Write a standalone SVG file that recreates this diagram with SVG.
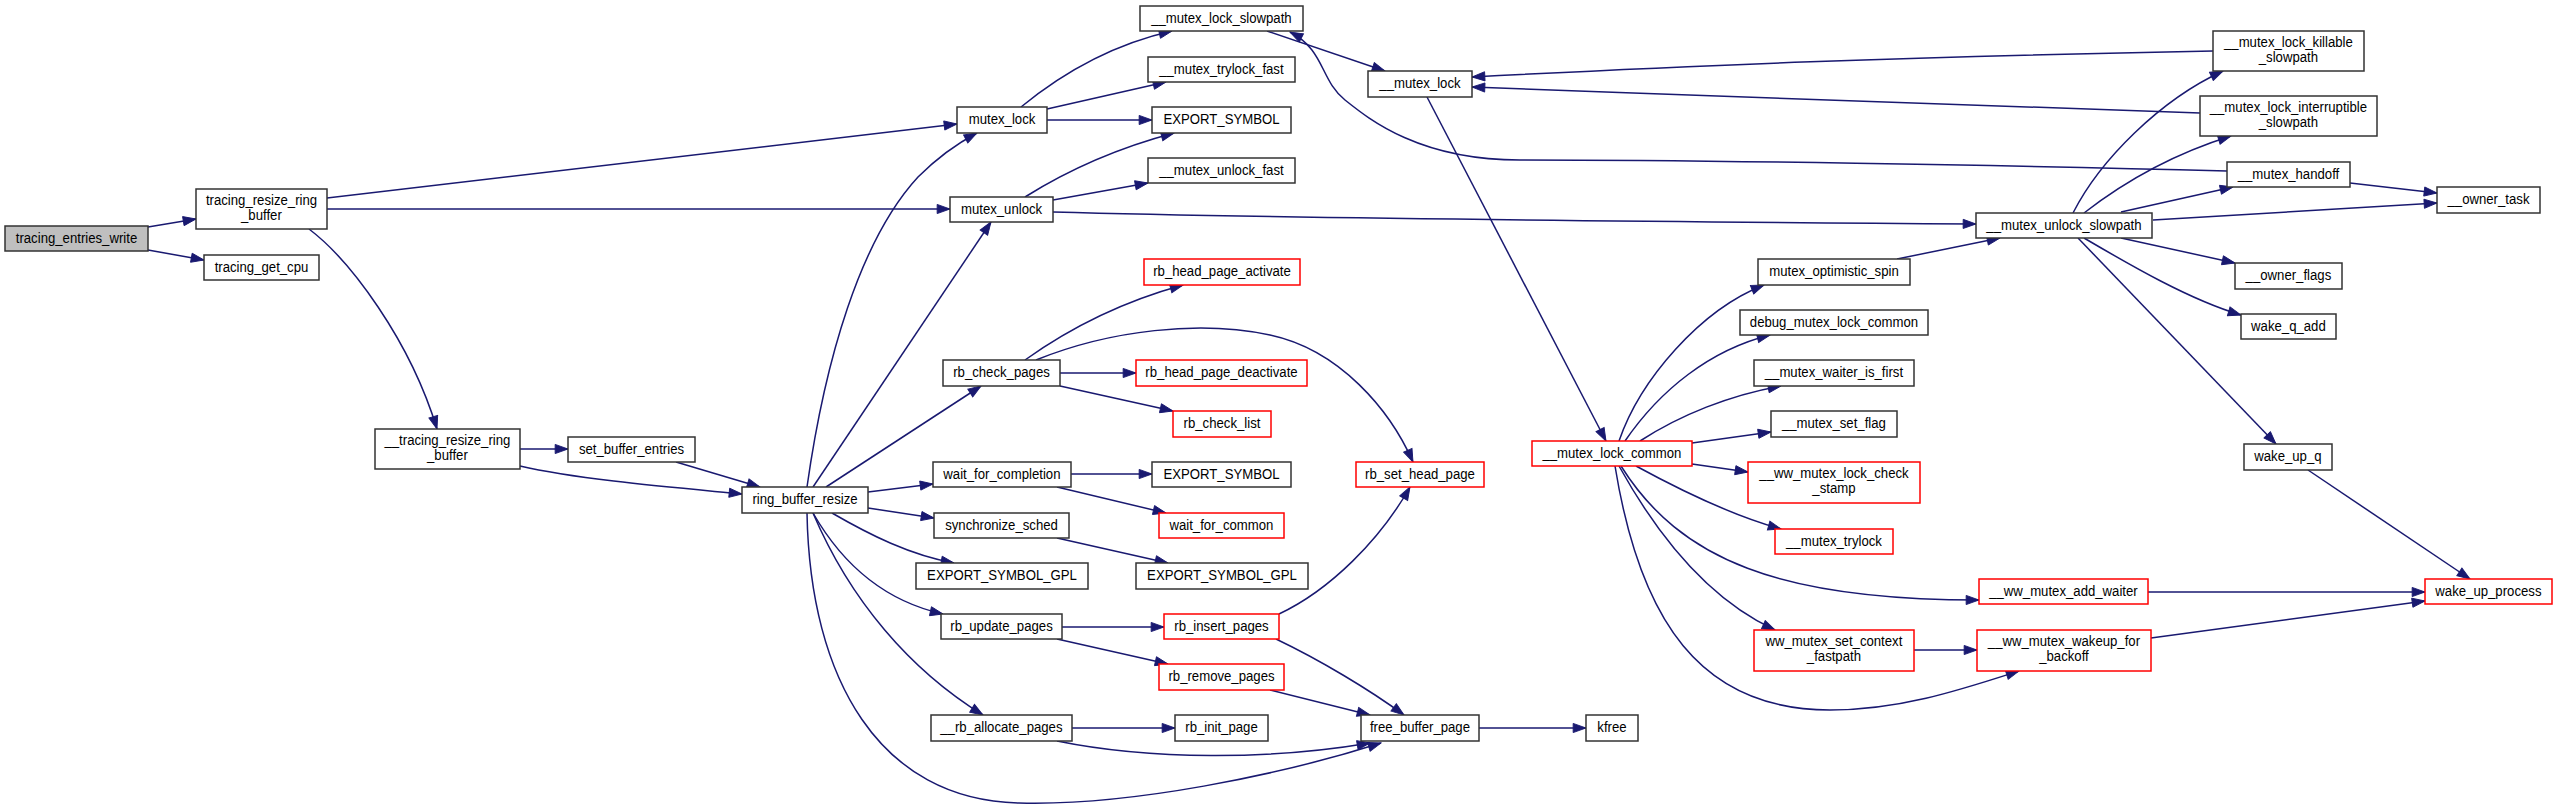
<svg xmlns="http://www.w3.org/2000/svg" width="2557" height="809" viewBox="0 0 2557 809">
<defs>
<style>
.n rect{fill:#ffffff;stroke:#333333;stroke-width:1.5}
.r rect{fill:#ffffff;stroke:#ff0000;stroke-width:1.5}
.g rect{fill:#bfbfbf;stroke:#333333;stroke-width:1.5}
text{font-family:"Liberation Sans",Arial,sans-serif;font-size:15.5px;fill:#000000;text-anchor:middle;transform-box:fill-box;transform-origin:center;transform:scaleX(0.85)}
.e path{fill:none;stroke:#191970;stroke-width:1.5;marker-end:url(#ah)}
</style>
<marker id="ah" markerUnits="userSpaceOnUse" markerWidth="15" markerHeight="11" refX="14" refY="5" orient="auto" viewBox="-1 -1 16 12">
<path d="M0,0 L14,5 L0,10 z" fill="#191970" stroke="#191970" stroke-width="1"/>
</marker>
</defs>
<rect width="2557" height="809" fill="#ffffff"/>
<g id="connectors" class="e">
<path d="M148,227 L196,219"/>
<path d="M148,250 L204,260"/>
<path d="M327,198 L957,124"/>
<path d="M327,209 L950,209"/>
<path d="M309,229 C350,260 410,340 437,429"/>
<path d="M520,449 L568,449"/>
<path d="M520,466 C580,480 680,488 742,494"/>
<path d="M676,462 L760,487"/>
<path d="M807,487 C825,360 860,240 918,177 C940,155 960,142 977,133"/>
<path d="M813,487 L991,222"/>
<path d="M826,487 L981,386"/>
<path d="M868,492 L933,484"/>
<path d="M868,508 L934,518"/>
<path d="M832,513 C870,535 910,555 954,563"/>
<path d="M813,513 C840,560 880,600 943,614"/>
<path d="M813,513 C850,600 910,670 983,715"/>
<path d="M807,513 C810,680 880,800 1019,803 C1130,806 1280,775 1381,743"/>
<path d="M1036,360 C1110,330 1200,320 1270,335 C1340,350 1390,410 1413,462"/>
<path d="M1025,360 C1060,335 1110,305 1183,285"/>
<path d="M1060,373 L1136,373"/>
<path d="M1060,386 L1173,411"/>
<path d="M1021,107 C1060,75 1110,45 1172,31"/>
<path d="M1047,109 L1166,82"/>
<path d="M1047,120 L1152,120"/>
<path d="M1025,197 C1060,175 1110,150 1174,133"/>
<path d="M1053,200 L1148,183"/>
<path d="M1053,212 C1300,219 1700,222 1976,224"/>
<path d="M1267,31 L1385,71"/>
<path d="M1427,97 L1606,441"/>
<path d="M2213,51 C1900,57 1700,65 1472,77"/>
<path d="M2200,113 C1900,102 1700,96 1472,87"/>
<path d="M2227,171 C2000,165 1700,160 1520,160 C1420,160 1370,120 1345,100 C1320,80 1325,50 1290,32"/>
<path d="M2073,213 C2100,160 2160,100 2223,71"/>
<path d="M2084,213 C2120,185 2170,155 2231,136"/>
<path d="M2121,212 L2233,187"/>
<path d="M2153,220 L2437,203"/>
<path d="M2350,183 L2437,193"/>
<path d="M2121,238 L2235,263"/>
<path d="M2084,238 C2130,265 2190,300 2241,315"/>
<path d="M2078,238 L2276,444"/>
<path d="M2308,470 L2470,579"/>
<path d="M1897,259 L2000,238"/>
<path d="M1619,441 C1640,380 1700,310 1764,285"/>
<path d="M1625,441 C1660,390 1710,350 1770,335"/>
<path d="M1640,441 C1680,415 1730,395 1781,386"/>
<path d="M1692,443 L1771,432"/>
<path d="M1692,464 L1748,472"/>
<path d="M1636,466 C1680,490 1730,515 1781,529"/>
<path d="M1621,466 C1680,560 1780,600 1979,600"/>
<path d="M1619,466 C1660,540 1710,600 1775,630"/>
<path d="M1615,466 C1640,620 1700,710 1830,710 C1900,710 1960,690 2019,671"/>
<path d="M1914,650 L1977,650"/>
<path d="M2148,592 L2425,592"/>
<path d="M2151,638 L2425,601"/>
<path d="M1071,474 L1152,474"/>
<path d="M1057,487 L1166,513"/>
<path d="M1057,538 L1168,563"/>
<path d="M1062,627 L1164,627"/>
<path d="M1057,639 L1168,664"/>
<path d="M1279,614 C1330,590 1380,540 1410,487"/>
<path d="M1276,639 C1320,660 1370,690 1404,715"/>
<path d="M1270,690 L1370,715"/>
<path d="M1072,728 L1175,728"/>
<path d="M1057,741 C1150,760 1270,760 1370,743"/>
<path d="M1479,728 L1586,728"/>
</g>
<g id="n1" class="g"><rect x="5" y="226" width="143" height="25"/><text x="76.5" y="243">tracing_entries_write</text></g>
<g id="n2" class="n"><rect x="196" y="189" width="131" height="40"/><text x="261.5" y="205">tracing_resize_ring</text><text x="261.5" y="220">_buffer</text></g>
<g id="n3" class="n"><rect x="204" y="255" width="115" height="25"/><text x="261.5" y="272">tracing_get_cpu</text></g>
<g id="n4" class="n"><rect x="375" y="429" width="145" height="40"/><text x="447.5" y="445">__tracing_resize_ring</text><text x="447.5" y="460">_buffer</text></g>
<g id="n5" class="n"><rect x="568" y="437" width="127" height="25"/><text x="631.5" y="454">set_buffer_entries</text></g>
<g id="n6" class="n"><rect x="742" y="487" width="126" height="26"/><text x="805" y="504">ring_buffer_resize</text></g>
<g id="n7" class="n"><rect x="957" y="107" width="90" height="26"/><text x="1002" y="124">mutex_lock</text></g>
<g id="n8" class="n"><rect x="950" y="197" width="103" height="25"/><text x="1001.5" y="214">mutex_unlock</text></g>
<g id="n9" class="n"><rect x="943" y="360" width="117" height="26"/><text x="1001.5" y="377">rb_check_pages</text></g>
<g id="n10" class="n"><rect x="933" y="462" width="138" height="25"/><text x="1002" y="479">wait_for_completion</text></g>
<g id="n11" class="n"><rect x="934" y="513" width="135" height="25"/><text x="1001.5" y="530">synchronize_sched</text></g>
<g id="n12" class="n"><rect x="916" y="563" width="172" height="26"/><text x="1002" y="580">EXPORT_SYMBOL_GPL</text></g>
<g id="n13" class="n"><rect x="941" y="614" width="121" height="25"/><text x="1001.5" y="631">rb_update_pages</text></g>
<g id="n14" class="n"><rect x="931" y="715" width="141" height="26"/><text x="1001.5" y="732">__rb_allocate_pages</text></g>
<g id="n15" class="n"><rect x="1140" y="6" width="163" height="25"/><text x="1221.5" y="23">__mutex_lock_slowpath</text></g>
<g id="n16" class="n"><rect x="1148" y="57" width="147" height="25"/><text x="1221.5" y="74">__mutex_trylock_fast</text></g>
<g id="n17" class="n"><rect x="1152" y="107" width="139" height="26"/><text x="1221.5" y="124">EXPORT_SYMBOL</text></g>
<g id="n18" class="n"><rect x="1148" y="158" width="147" height="25"/><text x="1221.5" y="175">__mutex_unlock_fast</text></g>
<g id="n19" class="r"><rect x="1144" y="259" width="156" height="26"/><text x="1222" y="276">rb_head_page_activate</text></g>
<g id="n20" class="r"><rect x="1136" y="360" width="171" height="26"/><text x="1221.5" y="377">rb_head_page_deactivate</text></g>
<g id="n21" class="r"><rect x="1173" y="411" width="98" height="26"/><text x="1222" y="428">rb_check_list</text></g>
<g id="n22" class="n"><rect x="1152" y="462" width="139" height="25"/><text x="1221.5" y="479">EXPORT_SYMBOL</text></g>
<g id="n23" class="r"><rect x="1159" y="513" width="125" height="25"/><text x="1221.5" y="530">wait_for_common</text></g>
<g id="n24" class="n"><rect x="1136" y="563" width="172" height="26"/><text x="1222" y="580">EXPORT_SYMBOL_GPL</text></g>
<g id="n25" class="r"><rect x="1164" y="614" width="115" height="25"/><text x="1221.5" y="631">rb_insert_pages</text></g>
<g id="n26" class="r"><rect x="1159" y="664" width="125" height="26"/><text x="1221.5" y="681">rb_remove_pages</text></g>
<g id="n27" class="n"><rect x="1175" y="715" width="93" height="26"/><text x="1221.5" y="732">rb_init_page</text></g>
<g id="n28" class="r"><rect x="1356" y="462" width="128" height="25"/><text x="1420" y="479">rb_set_head_page</text></g>
<g id="n29" class="n"><rect x="1361" y="715" width="118" height="26"/><text x="1420" y="732">free_buffer_page</text></g>
<g id="n30" class="n"><rect x="1586" y="715" width="52" height="26"/><text x="1612" y="732">kfree</text></g>
<g id="n31" class="n"><rect x="1368" y="71" width="104" height="26"/><text x="1420" y="88">__mutex_lock</text></g>
<g id="n32" class="r"><rect x="1532" y="441" width="160" height="25"/><text x="1612" y="458">__mutex_lock_common</text></g>
<g id="n33" class="n"><rect x="1758" y="259" width="152" height="26"/><text x="1834" y="276">mutex_optimistic_spin</text></g>
<g id="n34" class="n"><rect x="1740" y="310" width="188" height="25"/><text x="1834" y="327">debug_mutex_lock_common</text></g>
<g id="n35" class="n"><rect x="1754" y="360" width="160" height="26"/><text x="1834" y="377">__mutex_waiter_is_first</text></g>
<g id="n36" class="n"><rect x="1771" y="411" width="126" height="26"/><text x="1834" y="428">__mutex_set_flag</text></g>
<g id="n37" class="r"><rect x="1748" y="462" width="172" height="41"/><text x="1834" y="478">__ww_mutex_lock_check</text><text x="1834" y="493">_stamp</text></g>
<g id="n38" class="r"><rect x="1775" y="529" width="118" height="25"/><text x="1834" y="546">__mutex_trylock</text></g>
<g id="n39" class="r"><rect x="1754" y="630" width="160" height="41"/><text x="1834" y="646">ww_mutex_set_context</text><text x="1834" y="661">_fastpath</text></g>
<g id="n40" class="n"><rect x="1976" y="213" width="176" height="25"/><text x="2064" y="230">__mutex_unlock_slowpath</text></g>
<g id="n41" class="n"><rect x="2213" y="31" width="151" height="40"/><text x="2288.5" y="47">__mutex_lock_killable</text><text x="2288.5" y="62">_slowpath</text></g>
<g id="n42" class="n"><rect x="2200" y="96" width="177" height="40"/><text x="2288.5" y="112">__mutex_lock_interruptible</text><text x="2288.5" y="127">_slowpath</text></g>
<g id="n43" class="n"><rect x="2227" y="162" width="123" height="25"/><text x="2288.5" y="179">__mutex_handoff</text></g>
<g id="n44" class="n"><rect x="2437" y="187" width="103" height="26"/><text x="2488.5" y="204">__owner_task</text></g>
<g id="n45" class="n"><rect x="2235" y="263" width="107" height="26"/><text x="2288.5" y="280">__owner_flags</text></g>
<g id="n46" class="n"><rect x="2241" y="314" width="95" height="25"/><text x="2288.5" y="331">wake_q_add</text></g>
<g id="n47" class="n"><rect x="2244" y="444" width="88" height="26"/><text x="2288" y="461">wake_up_q</text></g>
<g id="n48" class="r"><rect x="1979" y="579" width="169" height="25"/><text x="2063.5" y="596">__ww_mutex_add_waiter</text></g>
<g id="n49" class="r"><rect x="1977" y="630" width="174" height="41"/><text x="2064" y="646">__ww_mutex_wakeup_for</text><text x="2064" y="661">_backoff</text></g>
<g id="n50" class="r"><rect x="2425" y="579" width="127" height="25"/><text x="2488.5" y="596">wake_up_process</text></g>
</svg>
